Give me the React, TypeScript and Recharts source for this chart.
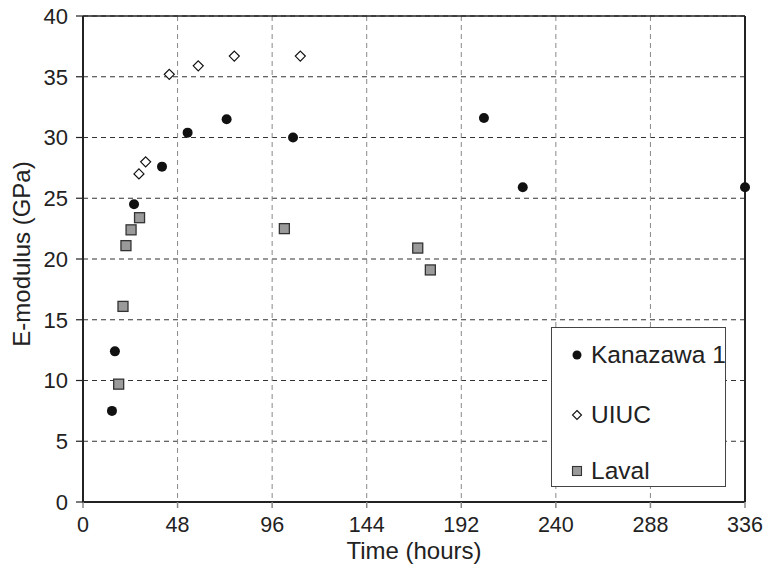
import {
  CartesianGrid,
  Label,
  Legend,
  ReferenceLine,
  Scatter,
  ScatterChart,
  XAxis,
  YAxis,
} from "recharts";

// 读图估值:时间(小时)与弹性模量(GPa)
const kanazawaHours = [14.7, 16.2, 25.9, 40.1, 53.1, 72.9, 106.6, 203.5, 223.2, 336];
const kanazawaModulus = [7.5, 12.4, 24.5, 27.6, 30.4, 31.5, 30.0, 31.6, 25.9, 25.9];

const uiucHours = [28.4, 31.8, 43.8, 58.5, 76.8, 110.3];
const uiucModulus = [27.0, 28.0, 35.2, 35.9, 36.7, 36.7];

const lavalHours = [18.1, 20.3, 21.8, 24.4, 28.7, 102.2, 169.9, 176.3];
const lavalModulus = [9.7, 16.1, 21.1, 22.4, 23.4, 22.5, 20.9, 19.1];

const xTicks = [0, 48, 96, 144, 192, 240, 288, 336];
const yTicks = [0, 5, 10, 15, 20, 25, 30, 35, 40];

const FONT = "'Liberation Sans', Arial, Helvetica, sans-serif";
const INK = "#222";

type Pt = { x: number; y: number };

function zip(xs: number[], ys: number[]): Pt[] {
  return xs.map((x, i) => ({ x, y: ys[i] }));
}

const kanazawa = zip(kanazawaHours, kanazawaModulus);
const uiuc = zip(uiucHours, uiucModulus);
const laval = zip(lavalHours, lavalModulus);

function CircleDot(props: any) {
  return <circle cx={props.cx} cy={props.cy} r={5} fill="#111" />;
}

function DiamondDot(props: any) {
  const { cx, cy } = props;
  const s = 5;
  return (
    <polygon
      points={`${cx},${cy - s} ${cx + s},${cy} ${cx},${cy + s} ${cx - s},${cy}`}
      fill="#fff"
      stroke="#111"
      strokeWidth={1.2}
    />
  );
}

function SquareDot(props: any) {
  const { cx, cy } = props;
  return (
    <rect x={cx - 5} y={cy - 5} width={10} height={10} fill="#9a9a9a" stroke="#333" strokeWidth={1.3} />
  );
}

// 图例:白底方框,手动画三种标记
function LegendBox() {
  const rows = [
    { name: "Kanazawa 1", top: 27, kind: "circle" },
    { name: "UIUC", top: 87, kind: "diamond" },
    { name: "Laval", top: 143, kind: "square" },
  ];
  return (
    <div
      style={{
        position: "relative",
        width: 175,
        height: 160,
        background: "#fff",
        border: "1px solid #444",
        boxSizing: "border-box",
        fontFamily: FONT,
        color: INK,
        overflow: "hidden",
      }}
    >
      {rows.map((r) => (
        <div
          key={r.name}
          style={{ position: "absolute", left: 17, top: r.top - 14, height: 28, display: "flex", alignItems: "center" }}
        >
          <svg width={16} height={16} style={{ marginRight: 6 }}>
            {r.kind === "circle" && <circle cx={8} cy={8} r={4.5} fill="#111" />}
            {r.kind === "diamond" && (
              <polygon points="8,3.5 12.5,8 8,12.5 3.5,8" fill="#fff" stroke="#111" strokeWidth={1.1} />
            )}
            {r.kind === "square" && (
              <rect x={3.5} y={3.5} width={9} height={9} fill="#9a9a9a" stroke="#333" strokeWidth={1.1} />
            )}
          </svg>
          <span style={{ fontSize: 24.5, lineHeight: "28px", whiteSpace: "nowrap" }}>{r.name}</span>
        </div>
      ))}
    </div>
  );
}

function YTitle() {
  return (
    <text
      x={30}
      y={254}
      transform="rotate(-90 30 254)"
      textAnchor="middle"
      fontFamily={FONT}
      fontSize={24}
      fill={INK}
    >
      E-modulus (GPa)
    </text>
  );
}

export default function App() {
  return (
    <div style={{ position: "absolute", left: 0, top: 0, background: "#fff" }}>
      <ScatterChart width={763} height={564} margin={{ top: 16, right: 18, left: 0, bottom: 0 }}>
        <CartesianGrid vertical={false} stroke="#333" strokeDasharray="5 4" />
        <CartesianGrid horizontal={false} stroke="#888" strokeDasharray="5 4" />
        <XAxis
          type="number"
          dataKey="x"
          domain={[0, 336]}
          ticks={xTicks}
          height={62}
          tickSize={6}
          tickMargin={9}
          axisLine={{ stroke: INK, strokeWidth: 2 }}
          tickLine={{ stroke: "#888", strokeWidth: 1.5 }}
          tick={{ fill: INK, fontSize: 21.5, fontFamily: FONT }}
          interval={0}
        >
          <Label
            value="Time (hours)"
            position="insideBottom"
            offset={5}
            fill={INK}
            fontSize={24}
            fontFamily={FONT}
          />
        </XAxis>
        <YAxis
          type="number"
          dataKey="y"
          domain={[0, 40]}
          ticks={yTicks}
          width={83}
          tickSize={7}
          tickMargin={8}
          axisLine={{ stroke: INK, strokeWidth: 2 }}
          tickLine={{ stroke: INK, strokeWidth: 1.2 }}
          tick={{ fill: INK, fontSize: 22, fontFamily: FONT }}
          interval={0}
        >
          <Label content={<YTitle />} />
        </YAxis>
        <ReferenceLine y={40} stroke={INK} strokeWidth={1.5} />
        <ReferenceLine x={336} stroke={INK} strokeWidth={2} />
        <Scatter name="Kanazawa 1" data={kanazawa} shape={CircleDot} isAnimationActive={false} />
        <Scatter name="UIUC" data={uiuc} shape={DiamondDot} isAnimationActive={false} />
        <Scatter name="Laval" data={laval} shape={SquareDot} isAnimationActive={false} />
        <Legend
          layout="vertical"
          align="center"
          verticalAlign="middle"
          content={<LegendBox />}
          wrapperStyle={{ left: 551, top: 327, width: 175, height: 160 }}
        />
      </ScatterChart>
    </div>
  );
}
